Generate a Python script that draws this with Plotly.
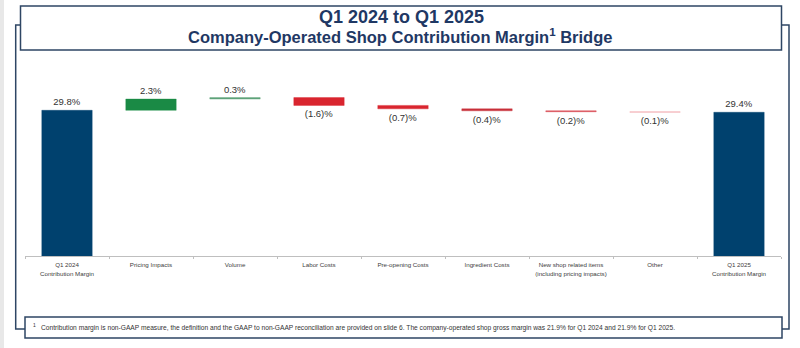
import plotly.graph_objects as go

categories = [
    "Q1 2024<br>Contribution Margin",
    "Pricing Impacts",
    "Volume",
    "Labor Costs",
    "Pre-opening Costs",
    "Ingredient Costs",
    "New shop related items<br>(including pricing impacts)",
    "Other",
    "Q1 2025<br>Contribution Margin",
]
start_value = 29.8
deltas = [2.3, 0.3, -1.6, -0.7, -0.4, -0.2, -0.1]
end_value = 29.4

bar_colors = ["#00416e", "#1a8a45", "#5fa37a", "#d9252f", "#d9252f",
              "#c8303a", "#d8454c", "#f2a5aa", "#00416e"]

# build bases / heights
ys = [start_value]
bases = [0]
cum = start_value
for d in deltas:
    bases.append(cum)
    ys.append(d)
    cum += d
ys.append(end_value)
bases.append(0)


def fmt(v, is_total):
    if is_total or v >= 0:
        return f"{v:.1f}%"
    return f"({abs(v):.1f})%"


texts = [fmt(v, i in (0, len(ys) - 1)) for i, v in enumerate(ys)]

W, H = 800, 348
ML, MR, MT, MB = 25, 19, 80, 92
PW, PH = W - ML - MR, H - MT - MB


def px(x):
    return (x - ML) / PW


def py(y):
    return (H - MB - y) / PH


fig = go.Figure()
fig.add_trace(go.Bar(
    x=categories, y=ys, base=bases,
    marker=dict(color=bar_colors, line=dict(color=bar_colors, width=0.4)),
    width=0.6,
    text=texts, textposition="outside", cliponaxis=False,
    textfont=dict(family="Liberation Sans, Arial, sans-serif", size=9.5, color="#333333"),
    hoverinfo="skip",
))

FRAME = "#2e4664"
shapes = [
    # left gray strip
    dict(type="rect", xref="paper", yref="paper", x0=px(0), x1=px(4), y0=py(0), y1=py(H),
         fillcolor="#e8e8e8", line=dict(width=0), layer="below"),
    # outer frame left
    dict(type="path", xref="paper", yref="paper",
         path=f"M {px(20.5)},{py(25)} L {px(15.7)},{py(25)} L {px(15.7)},{py(329)} L {px(25)},{py(329)}",
         line=dict(color=FRAME, width=1.5)),
    # outer frame right
    dict(type="path", xref="paper", yref="paper",
         path=f"M {px(781.5)},{py(25)} L {px(789)},{py(25)} L {px(789)},{py(329)} L {px(782)},{py(329)}",
         line=dict(color=FRAME, width=1.5)),
    # title box
    dict(type="rect", xref="paper", yref="paper", x0=px(20.5), x1=px(781.5), y0=py(50), y1=py(6),
         fillcolor="white", line=dict(color=FRAME, width=1.5)),
    # footnote box
    dict(type="rect", xref="paper", yref="paper", x0=px(25), x1=px(782), y0=py(338), y1=py(317),
         fillcolor="white", line=dict(color=FRAME, width=1.5)),
]

TITLE_C = "#1f3864"
annotations = [
    dict(text="<b>Q1 2024 to Q1 2025</b>", xref="paper", yref="paper", x=px(401), y=py(17),
         showarrow=False, xanchor="center", yanchor="middle",
         font=dict(family="Liberation Sans, Arial, sans-serif", size=18, color=TITLE_C)),
    dict(text="<b>Company-Operated Shop Contribution Margin<sup>1</sup> Bridge</b>",
         xref="paper", yref="paper", x=px(400), y=py(36),
         showarrow=False, xanchor="center", yanchor="middle",
         font=dict(family="Liberation Sans, Arial, sans-serif", size=16.5, color=TITLE_C)),
    dict(text="1", xref="paper", yref="paper", x=px(31), y=py(325),
         showarrow=False, xanchor="left", yanchor="middle",
         font=dict(family="Liberation Sans, Arial, sans-serif", size=5, color="#333333")),
    dict(text="Contribution margin is non-GAAP measure, the definition and the GAAP to non-GAAP reconciliation "
              "are provided on slide 6. The company-operated shop gross margin was 21.9% for Q1 2024 and 21.9% for Q1 2025.",
         xref="paper", yref="paper", x=px(38.5), y=py(327.5),
         showarrow=False, xanchor="left", yanchor="middle",
         font=dict(family="Liberation Sans, Arial, sans-serif", size=6.65, color="#333333")),
]

fig.update_layout(
    width=W, height=H,
    margin=dict(l=ML, r=MR, t=MT, b=MB, pad=0),
    paper_bgcolor="white", plot_bgcolor="white",
    showlegend=False,
    shapes=shapes, annotations=annotations,
    bargap=0.4,
    xaxis=dict(
        type="category", range=[-0.5, len(categories) - 0.5],
        showline=True, linecolor="#bfbfbf", linewidth=1,
        ticks="outside", tickson="boundaries", ticklen=2, tickcolor="#bfbfbf",
        ticklabelstandoff=3, tickangle=0,
        tickfont=dict(family="Liberation Sans, Arial, sans-serif", size=6.2, color="#404040"),
        showgrid=False, zeroline=False, fixedrange=True,
    ),
    yaxis=dict(range=[0, 36], visible=False, showgrid=False, zeroline=False, fixedrange=True),
)

fig.write_html("out.html")
